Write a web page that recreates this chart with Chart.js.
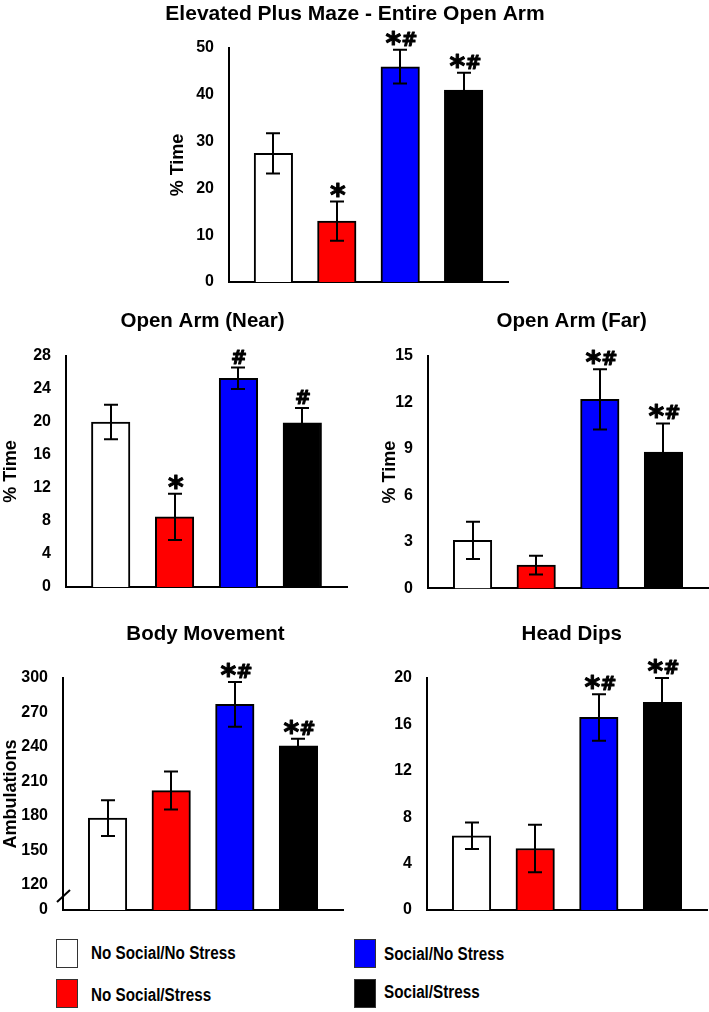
<!DOCTYPE html>
<html>
<head>
<meta charset="utf-8">
<script src="https://cdn.jsdelivr.net/npm/chart.js@4.4.1/dist/chart.umd.min.js"></script>
<style>
  body { margin: 0; background: #fff; width: 709px; height: 1012px; position: relative; overflow: hidden;
         font-family: "Liberation Sans", Arial, sans-serif; }
  canvas { position: absolute; }
  .swatch { position: absolute; width: 20px; height: 27px; border: 1px solid #333; }
  .lab { position: absolute; font-weight: bold; font-size: 17.5px; line-height: 1; white-space: nowrap;
         transform: scaleX(0.87); transform-origin: left center; color: #000; }
</style>
</head>
<body>
<script>
const FONT = '"Liberation Sans", Arial, sans-serif';
const MARK_FONT = '"DejaVu Sans", sans-serif';

// groups (x categories) and their fills
const groups = ['No Social/No Stress', 'No Social/Stress', 'Social/No Stress', 'Social/Stress'];
const groupColors = ['#ffffff', '#ff0000', '#0000ff', '#000000'];

// Elevated Plus Maze - Entire Open Arm
const openArmValues = [27.5, 13.0, 46.0, 41.0];
const openArmErrors = [4.3, 4.2, 3.6, 3.7];
const openArmMarks = ['', '*', '*#', '*#'];
const openArmTicks = [0, 10, 20, 30, 40, 50];

// Open Arm (Near)
const nearValues = [20.0, 8.5, 25.3, 19.9];
const nearErrors = [2.1, 2.8, 1.3, 1.8];
const nearMarks = ['', '*', '#', '#'];
const nearTicks = [0, 4, 8, 12, 16, 20, 24, 28];

// Open Arm (Far)
const farValues = [3.1, 1.5, 12.2, 8.8];
const farErrors = [1.2, 0.6, 1.95, 1.85];
const farMarks = ['', '', '*#', '*#'];
const farTicks = [0, 3, 6, 9, 12, 15];

// Body Movement (broken axis: the "0" label sits just below 120)
const bodyValues = [178, 202, 277, 241];
const bodyErrors = [15.5, 16.5, 19.5, 6];
const bodyMarks = ['', '', '*#', '*#'];
const bodyTickValues = [98, 120, 150, 180, 210, 240, 270, 300];
const bodyTickLabels = ['0', '120', '150', '180', '210', '240', '270', '300'];

// Head Dips
const headValues = [6.4, 5.3, 16.6, 17.9];
const headErrors = [1.15, 2.05, 2.0, 2.1];
const headMarks = ['', '', '*#', '*#'];
const headTicks = [0, 4, 8, 12, 16, 20];

const CAP = 7;
const GLYPH_SIZE = { '*': 30, '#': 19 };

// draws "*", "#" or "*#" so that the ink sits just above `bottom`
function drawMark(ctx, str, cx, bottom) {
  if (!str) return;
  ctx.textAlign = 'left';
  ctx.textBaseline = 'alphabetic';
  ctx.lineWidth = 1;
  ctx.lineJoin = 'round';
  const parts = str.split('').map(ch => {
    ctx.font = `bold ${GLYPH_SIZE[ch]}px ${MARK_FONT}`;
    const m = ctx.measureText(ch);
    return { ch, m, w: m.actualBoundingBoxLeft + m.actualBoundingBoxRight };
  });
  const total = parts.reduce((s, p) => s + p.w, 0) + (parts.length - 1);
  let left = cx + 1 - total / 2;
  parts.forEach(p => {
    ctx.font = `bold ${GLYPH_SIZE[p.ch]}px ${MARK_FONT}`;
    const tx = left + p.m.actualBoundingBoxLeft;
    const ty = bottom - p.m.actualBoundingBoxDescent;
    ctx.fillText(p.ch, tx, ty);
    ctx.strokeText(p.ch, tx, ty);
    left += p.w + 1;
  });
}

function makeDecor(spec) {
  return {
    id: 'decor',
    afterDatasetsDraw(chart) {
      const ctx = chart.ctx;
      const xs = chart.scales.x, ys = chart.scales.y;
      ctx.save();
      ctx.strokeStyle = '#000';
      ctx.fillStyle = '#000';
      spec.values.forEach((v, i) => {
        const x = Math.round(xs.getPixelForValue(i));
        const yt = ys.getPixelForValue(v + spec.errors[i]);
        const yb = ys.getPixelForValue(v - spec.errors[i]);
        ctx.lineWidth = 2;
        ctx.beginPath();
        ctx.moveTo(x, yt); ctx.lineTo(x, yb);
        ctx.moveTo(x - CAP, yt); ctx.lineTo(x + CAP, yt);
        ctx.moveTo(x - CAP, yb); ctx.lineTo(x + CAP, yb);
        ctx.stroke();
        drawMark(ctx, spec.marks[i], x, yt - 4);
      });
      ctx.restore();
    },
    afterDraw(chart) {
      const ctx = chart.ctx;
      const a = chart.chartArea;
      ctx.save();
      ctx.fillStyle = '#000';
      ctx.font = `bold ${spec.titleSize}px ${FONT}`;
      ctx.textAlign = 'center';
      ctx.textBaseline = 'alphabetic';
      ctx.fillText(spec.title, spec.titleX - spec.box.x, spec.titleBase - spec.box.y);
      if (spec.axisBreak) {
        ctx.strokeStyle = '#000';
        ctx.lineWidth = 2;
        ctx.beginPath();
        ctx.moveTo(a.left - 6, a.bottom - 8);
        ctx.lineTo(a.left + 7, a.bottom - 20);
        ctx.stroke();
      }
      ctx.restore();
    }
  };
}

function buildPanel(spec) {
  const { box, area } = spec;
  const canvas = document.createElement('canvas');
  canvas.width = box.w;
  canvas.height = box.h;
  canvas.style.left = box.x + 'px';
  canvas.style.top = box.y + 'px';
  canvas.style.width = box.w + 'px';
  canvas.style.height = box.h + 'px';
  document.body.appendChild(canvas);

  const yTitleSize = 18;
  const yW = spec.yTitle ? area.l - (spec.yTitleX - yTitleSize * 0.6) : 50;
  const padding = {
    left: area.l - box.x - yW,
    right: box.x + box.w - area.r,
    top: area.t - box.y,
    bottom: box.y + box.h - area.b
  };
  const tickVals = spec.ticks;
  const tickLabels = spec.tickLabels || spec.ticks.map(String);

  return new Chart(canvas.getContext('2d'), {
    type: 'bar',
    data: {
      datasets: [{
        data: spec.values.map((v, i) => ({ x: i, y: v })),
        backgroundColor: groupColors,
        borderColor: '#000',
        borderWidth: 2,
        borderSkipped: 'start',
        barThickness: 38.5,
        clip: 0
      }]
    },
    options: {
      responsive: false,
      animation: false,
      devicePixelRatio: 1,
      layout: { padding },
      plugins: { legend: { display: false }, tooltip: { enabled: false } },
      scales: {
        x: {
          type: 'linear',
          min: -0.7,
          max: 3.7,
          offset: false,
          bounds: 'data',
          z: 1,
          grid: { display: false, offset: false },
          border: { display: true, color: '#000', width: 2 },
          ticks: { display: false },
          afterFit: s => { s.height = 0; }
        },
        y: {
          type: 'linear',
          min: tickVals[0],
          max: tickVals[tickVals.length - 1],
          z: 1,
          grid: { display: false },
          border: { display: true, color: '#000', width: 2 },
          afterBuildTicks: s => { s.ticks = tickVals.map(v => ({ value: v })); },
          ticks: {
            color: '#000',
            padding: 7,
            font: { family: FONT, size: 16, weight: 'bold' },
            callback: (v, i) => tickLabels[i]
          },
          title: {
            display: !!spec.yTitle,
            text: spec.yTitle || '',
            color: '#000',
            padding: 0,
            font: { family: FONT, size: yTitleSize, weight: 'bold' }
          },
          afterFit: s => { s.width = yW; }
        }
      }
    },
    plugins: [makeDecor(spec)]
  });
}

buildPanel({
  box: { x: 100, y: 0, w: 520, h: 300 },
  area: { l: 229, r: 508, t: 48, b: 282 },
  title: 'Elevated Plus Maze - Entire Open Arm', titleSize: 21, titleX: 355, titleBase: 20,
  yTitle: '% Time', yTitleX: 178,
  values: openArmValues, errors: openArmErrors, marks: openArmMarks, ticks: openArmTicks
});

buildPanel({
  box: { x: 0, y: 295, w: 355, h: 310 },
  area: { l: 66, r: 347, t: 356, b: 587 },
  title: 'Open Arm (Near)', titleSize: 20.5, titleX: 202.5, titleBase: 327,
  yTitle: '% Time', yTitleX: 11.5,
  values: nearValues, errors: nearErrors, marks: nearMarks, ticks: nearTicks
});

buildPanel({
  box: { x: 360, y: 295, w: 349, h: 310 },
  area: { l: 428, r: 708, t: 356, b: 589 },
  title: 'Open Arm (Far)', titleSize: 20.5, titleX: 571.7, titleBase: 327,
  yTitle: '% Time', yTitleX: 389.7,
  values: farValues, errors: farErrors, marks: farMarks, ticks: farTicks
});

buildPanel({
  box: { x: 0, y: 605, w: 355, h: 325 },
  area: { l: 63, r: 343, t: 678, b: 910 },
  title: 'Body Movement', titleSize: 20.5, titleX: 205.5, titleBase: 640,
  yTitle: 'Ambulations', yTitleX: 11,
  values: bodyValues, errors: bodyErrors, marks: bodyMarks,
  ticks: bodyTickValues, tickLabels: bodyTickLabels, axisBreak: true
});

buildPanel({
  box: { x: 360, y: 605, w: 349, h: 325 },
  area: { l: 427, r: 707, t: 678, b: 910 },
  title: 'Head Dips', titleSize: 20.5, titleX: 571.7, titleBase: 640,
  yTitle: null,
  values: headValues, errors: headErrors, marks: headMarks, ticks: headTicks
});

// legend
const legendSlots = [
  { sx: 56, sy: 939, lx: 91, base: 960 },
  { sx: 56, sy: 979, lx: 91, base: 1001.5 },
  { sx: 354, sy: 939, lx: 384, base: 960.5 },
  { sx: 354, sy: 979, lx: 384, base: 998.5 }
];
groups.forEach((g, i) => {
  const s = legendSlots[i];
  const sw = document.createElement('div');
  sw.className = 'swatch';
  sw.style.left = s.sx + 'px';
  sw.style.top = s.sy + 'px';
  sw.style.background = groupColors[i];
  document.body.appendChild(sw);
  const lab = document.createElement('div');
  lab.className = 'lab';
  lab.style.left = s.lx + 'px';
  lab.style.top = (s.base - 0.846 * 17.5) + 'px';
  lab.textContent = g;
  document.body.appendChild(lab);
});
</script>
</body>
</html>
